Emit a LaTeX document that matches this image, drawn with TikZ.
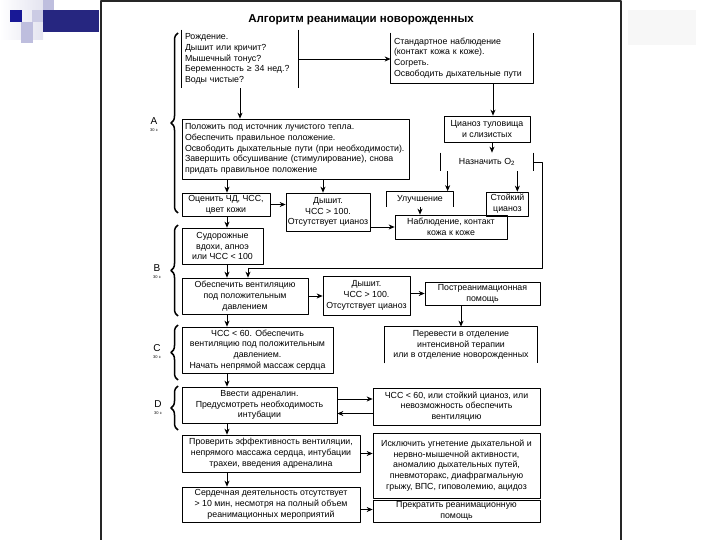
\documentclass[tikz,border=0pt]{standalone}
\usepackage{fontspec}
\setmainfont{Liberation Sans}
\usetikzlibrary{arrows.meta,decorations.pathreplacing}
\definecolor{decoNavy}{RGB}{38,38,128}
\definecolor{decoBlue}{RGB}{24,24,150}
\definecolor{decoLav}{RGB}{190,190,222}
\definecolor{decoPale}{RGB}{228,228,240}

\begin{document}
\begin{tikzpicture}[x=1pt, y=-1pt, line join=round, >={Stealth[length=6pt,width=5pt]},
  box/.style={draw, line width=0.7pt, align=center, inner sep=1pt, font=\fontsize{8.8}{10.8}\selectfont},
  open/.style={box, draw=none},
  lbox/.style={box, align=left, inner sep=3pt},
  arr/.style={->, line width=0.7pt},
  phase/.style={decorate, decoration={brace, amplitude=7pt}, line width=1.5pt},
  letter/.style={align=center, inner sep=0pt, font=\fontsize{10}{7}\selectfont}]
\useasboundingbox (0,0) rectangle (720,540);
% slide decoration
\shade[left color=white, right color=decoPale] (0,0) rectangle (43,40);
\fill[decoLav] (43,0) rectangle (54,22);
\fill[decoLav!80] (32,10) rectangle (43,22);
\fill[decoLav] (21,22) rectangle (33,43);
\fill[decoNavy] (43,10) rectangle (99,32);
\fill[decoBlue] (10,10) rectangle (22,22);
\fill[black!3] (628,10) rectangle (696,45);
\draw[line width=1.2pt, black!85] (101,540) -- (101,1) -- (621,1) -- (621,540);
\node[font=\bfseries\fontsize{11.5}{12}\selectfont] (title) at (361,20) {Алгоритм реанимации новорожденных};
% phase A
\node[lbox, draw=none, text width=110pt, minimum height=58pt] (birth) at (240,59) {Рождение.\\Дышит или кричит?\\Мышечный тонус?\\Беременность ≥ 34 нед.?\\Воды чистые?};
\node[lbox, draw=none, text width=136pt, minimum height=50pt] (stand) at (462,58) {Стандартное наблюдение\\(контакт кожа к коже).\\Согреть.\\Освободить дыхательные пути};
\node[lbox, text width=221pt, minimum height=60pt] (warm) at (295.5,149) {Положить под источник лучистого тепла.\\Обеспечить правильное положение.\\Освободить дыхательные пути (при необходимости).\\Завершить обсушивание (стимулирование), снова\\придать правильное положение};
\node[box, minimum width=86pt, minimum height=26pt] (cyan) at (487,129) {Цианоз туловища\\и слизистых};
\node[open, minimum width=92pt, minimum height=18pt] (o2) at (487,162) {Назначить O\textsubscript{2}};
\node[open, minimum width=66pt, minimum height=15pt] (better) at (420,199) {Улучшение};
\node[box, minimum width=42pt, minimum height=24pt] (persist) at (507.5,204) {Стойкий\\цианоз};
\node[box, minimum width=88pt, minimum height=23pt] (assess) at (226,204.5) {Оценить ЧД, ЧСС,\\цвет кожи};
\node[box, minimum width=84pt, minimum height=38pt] (breath1) at (328,212) {Дышит.\\ЧСС > 100.\\Отсутствует цианоз};
\node[box, minimum width=112pt, minimum height=24pt] (nabl) at (451,227) {Наблюдение, контакт\\кожа к коже};
% phase B
\node[box, minimum width=81pt, minimum height=36pt] (gasp) at (222.5,246) {Судорожные\\вдохи, апноэ\\или ЧСС < 100};
\node[box, minimum width=126pt, minimum height=36pt] (vent) at (245,296) {Обеспечить вентиляцию\\под положительным\\давлением};
\node[box, minimum width=87pt, minimum height=39pt] (breath2) at (366.5,295.5) {Дышит.\\ЧСС > 100.\\Отсутствует цианоз};
\node[box, minimum width=115pt, minimum height=23pt] (post) at (482.5,293.5) {Постреанимационная\\помощь};
\node[open, minimum width=152pt, minimum height=36pt] (transfer) at (461,345) {Перевести в отделение\\интенсивной терапии\\или в отделение новорожденных};
% phases C, D
\node[box, minimum width=151pt, minimum height=46pt] (chest) at (257.5,350) {ЧСС < 60. Обеспечить\\вентиляцию под положительным\\давлением.\\Начать непрямой массаж сердца};
\node[box, minimum width=155pt, minimum height=36pt] (adr) at (259.5,405) {Ввести адреналин.\\Предусмотреть необходимость\\интубации};
\node[box, minimum width=167pt, minimum height=37pt] (fail) at (456.5,406.5) {ЧСС < 60, или стойкий цианоз, или\\невозможность обеспечить\\вентиляцию};
\node[box, minimum width=178pt, minimum height=37pt] (check) at (271,453.5) {Проверить эффективность вентиляции,\\непрямого массажа сердца, интубации\\трахеи, введения адреналина};
\node[box, minimum width=167pt, minimum height=65pt] (excl) at (456.5,465.5) {Исключить угнетение дыхательной и\\нервно-мышечной активности,\\аномалию дыхательных путей,\\пневмоторакс, диафрагмальную\\грыжу, ВПС, гиповолемию, ацидоз};
\node[box, minimum width=178pt, minimum height=35pt] (nohope) at (271,504.5) {Сердечная деятельность отсутствует\\> 10 мин, несмотря на полный объем\\реанимационных мероприятий};
\node[box, minimum width=167pt, minimum height=22pt] (stop) at (456.5,511) {Прекратить реанимационную\\помощь};
% open box sides
\draw[line width=0.7pt] (birth.north west) -- (birth.south west) (birth.north east) -- (birth.south east);
\draw[line width=0.7pt] (stand.north west) -- (stand.south west) -- (stand.south east) -- (stand.north east);
\draw[line width=0.7pt] (o2.north west) -- (o2.south west) (o2.north east) -- (o2.south east);
\draw[line width=0.7pt] (better.south west) -- (better.north west) -- (better.north east) -- (better.south east);
\draw[line width=0.7pt] (transfer.south west) -- (transfer.north west) -- (transfer.north east) -- (transfer.south east);
% connectors
\coordinate (col) at (227,0);
\coordinate (turn) at (542,268);
\draw[arr] (birth.south) -- (birth.south |- warm.north);
\draw[arr] (birth.east) -- (birth.east -| stand.west);
\draw[arr] ([xshift=6pt]stand.south -| cyan.north) -- ([xshift=6pt]cyan.north);
\draw[arr] ([xshift=5pt]cyan.south) -- ([xshift=5pt]cyan.south |- o2.north);
\draw[arr] ([xshift=7pt]o2.south west) -- ([xshift=7pt]o2.south west |- better.north);
\draw[arr] ([xshift=-16pt]o2.south east) -- ([xshift=-16pt]o2.south east |- persist.north);
\draw[arr] (o2.east) -| (turn) -| ([xshift=3pt]vent.north);
\draw[arr] (warm.south -| col) -- (assess.north -| col);
\draw[arr] ([xshift=-5pt]warm.south -| breath1.north) -- ([xshift=-5pt]breath1.north);
\draw[arr] (assess.east) -- (assess.east -| breath1.west);
\draw[arr] (breath1.east |- nabl.west) -- (nabl.west);
\draw[arr] (better.south) -- (better.south |- nabl.north);
\draw[arr] (assess.south -| col) -- (gasp.north -| col);
\draw[arr] (gasp.south -| col) -- (vent.north -| col);
\draw[arr] (vent.east) -- (vent.east -| breath2.west);
\draw[arr] (breath2.east |- post.west) -- (post.west);
\draw[arr] (post.south -| transfer.north) -- (transfer.north);
\draw[arr] (vent.south -| col) -- (chest.north -| col);
\draw[arr] (chest.south -| col) -- (adr.north -| col);
\draw[arr] ([yshift=6pt]adr.east) -- ([yshift=6pt]adr.east -| fail.west);
\draw[arr] ([yshift=-7pt]fail.west) -- ([yshift=-7pt]fail.west -| adr.east);
\draw[arr] (adr.south -| col) -- (check.north -| col);
\draw[arr] (check.east) -- (check.east -| excl.west);
\draw[arr] (check.south -| col) -- (nohope.north -| col);
\draw[arr] ([yshift=-5pt]nohope.east) -- ([yshift=-5pt]nohope.east -| stop.west);
% phases
\draw[phase] (178,213) -- (178,33);
\draw[phase] (178,316) -- (178,225);
\draw[phase] (178,380) -- (178,325);
\draw[phase] (178,430) -- (178,386);
\node[letter] (pa) at (154,125) {A\\{\fontsize{4}{4}\selectfont 30 с}};
\node[letter] (pb) at (157,272) {B\\{\fontsize{4}{4}\selectfont 30 с}};
\node[letter] (pc) at (157,352) {C\\{\fontsize{4}{4}\selectfont 30 с}};
\node[letter] (pd) at (158,408) {D\\{\fontsize{4}{4}\selectfont 30 с}};
\end{tikzpicture}
\end{document}
